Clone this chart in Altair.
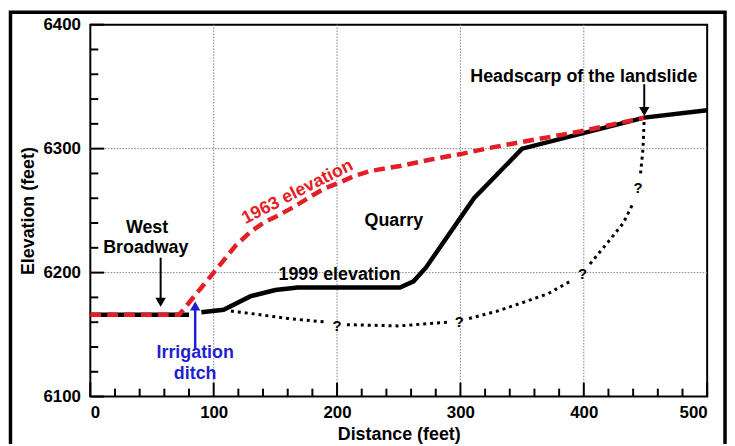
import altair as alt
import pandas as pd

# ---- data ----
# 1999 elevation (solid black), two pieces (gap at the irrigation-ditch arrow)
x_1999_a = [0, 80]
y_1999_a = [6166, 6166]
x_1999_b = [90, 108, 130, 150, 168, 251, 262, 272, 311, 350, 449, 500]
y_1999_b = [6168, 6170, 6181, 6186, 6188, 6188, 6193, 6204, 6260, 6300, 6325, 6331]

# 1963 elevation (red dashed)
x_1963 = [0, 72, 100, 118, 130, 140, 152, 165, 178, 190, 203, 214, 227, 251, 275, 302, 326, 342, 398, 449]
y_1963 = [6166, 6166, 6200, 6222, 6233, 6240, 6246, 6253, 6261, 6268, 6273, 6278, 6282, 6286, 6291, 6296, 6301, 6304, 6314, 6325]

# inferred failure surface (black dotted), split where the "?" marks sit
fail_seg = [1, 1, 1, 1, 2, 2, 2, 3, 3, 3, 3, 3, 4, 4, 4, 4, 5, 5, 5]
fail_x = [114, 130, 160, 192, 208, 250, 290, 307, 330, 351, 371, 389, 405, 420, 432, 440, 446, 448, 449]
fail_y = [6169, 6167, 6163, 6160, 6158, 6157, 6160, 6163, 6169, 6176, 6183, 6193, 6207, 6225, 6240, 6256, 6280, 6300, 6325]

q_x = [200, 299, 399, 444]
q_y = [6157, 6160, 6199, 6268]

# annotations
black_text = ["West", "Broadway", "Quarry", "1999 elevation", "Headscarp of the landslide"]
black_text_x = [46, 45, 246, 202, 400]
black_text_y = [6236, 6220, 6242, 6198, 6358]
blue_text = ["Irrigation", "ditch"]
blue_text_x = [85, 85]
blue_text_y = [6135, 6118]
red_text = ["1963 elevation"]
red_text_x = [168]
red_text_y = [6265]

# arrows: x, shaft start, head centre
arrow_black_x = [57, 449]
arrow_black_y1 = [6212, 6352]
arrow_black_y2 = [6176, 6330]
arrow_blue_x = [85]
arrow_blue_y1 = [6138]
arrow_blue_y2 = [6173]

x_major = [0, 100, 200, 300, 400, 500]
x_minor = [v for v in range(20, 500, 20) if v % 100 != 0]
y_major = [6100, 6200, 6300, 6400]
y_minor = [v for v in range(6120, 6400, 20) if v % 100 != 0]
x_grid = [100, 200, 300, 400]
y_grid = [6200, 6300]

# ---- scales ----
W, H = 622, 375
FONT = "Liberation Sans"
xs = alt.Scale(domain=[0, 500], nice=False, zero=False)
ys = alt.Scale(domain=[6100, 6400], nice=False, zero=False)
RED = "#e41e26"
BLUE = "#1f1fd0"

df_a = pd.DataFrame({"x": x_1999_a, "y": y_1999_a})
df_b = pd.DataFrame({"x": x_1999_b, "y": y_1999_b})
df_63 = pd.DataFrame({"x": x_1963, "y": y_1963})
df_f = pd.DataFrame({"seg": fail_seg, "x": fail_x, "y": fail_y})
df_q = pd.DataFrame({"x": q_x, "y": q_y, "t": ["?"] * len(q_x)})

xax = alt.Axis(values=x_major, title="Distance (feet)", format="d")
yax = alt.Axis(values=y_major, title="Elevation (feet)", format="d")
X = alt.X("x:Q", scale=xs, axis=xax)
Y = alt.Y("y:Q", scale=ys, axis=yax)
Y2f = alt.Y("y2:Q", scale=ys, axis=yax)

one = pd.DataFrame({"k": [0]})
frame = alt.Chart(one).mark_rect(fill=None, stroke="black", strokeWidth=3.5).encode(
    x=alt.value(-80.5), x2=alt.value(640), y=alt.value(-12.5), y2=alt.value(470))

gx = alt.Chart(pd.DataFrame({"x": x_grid})).mark_rule(
    color="#808080", strokeWidth=1, strokeDash=[1.5, 1.5]).encode(x=X)
gy = alt.Chart(pd.DataFrame({"y": y_grid})).mark_rule(
    color="#808080", strokeWidth=1, strokeDash=[1.5, 1.5]).encode(y=Y)

tx_maj = alt.Chart(pd.DataFrame({"x": x_major})).mark_rule(color="black", strokeWidth=2).encode(
    x=X, y=alt.value(H), y2=alt.value(H - 14))
tx_min = alt.Chart(pd.DataFrame({"x": x_minor})).mark_rule(color="black", strokeWidth=2).encode(
    x=X, y=alt.value(H), y2=alt.value(H - 8))
ty_maj = alt.Chart(pd.DataFrame({"y": y_major})).mark_rule(color="black", strokeWidth=2).encode(
    y=Y, x=alt.value(0), x2=alt.value(14))
ty_min = alt.Chart(pd.DataFrame({"y": y_minor})).mark_rule(color="black", strokeWidth=2).encode(
    y=Y, x=alt.value(0), x2=alt.value(8))

l99a = alt.Chart(df_a).mark_line(color="black", strokeWidth=4.5).encode(x=X, y=Y)
l99b = alt.Chart(df_b).mark_line(color="black", strokeWidth=4.5).encode(x=X, y=Y)
l63 = alt.Chart(df_63).mark_line(color=RED, strokeWidth=4.5, strokeDash=[11, 6]).encode(x=X, y=Y)
lf = alt.Chart(df_f).mark_line(color="black", strokeWidth=3, strokeDash=[3, 4]).encode(
    x=X, y=Y, detail="seg:N")
qm = alt.Chart(df_q).mark_text(font=FONT, fontSize=15, fontWeight="bold", color="black").encode(
    x=X, y=Y, text="t:N")

df_ab = pd.DataFrame({"x": arrow_black_x, "y": arrow_black_y1, "y2": arrow_black_y2})
ab_shaft = alt.Chart(df_ab).mark_rule(color="black", strokeWidth=2).encode(
    x=X, y=Y, y2="y2:Q")
ab_head = alt.Chart(df_ab).mark_point(shape="triangle-down", filled=True, size=110,
                                       color="black", opacity=1).encode(x=X, y=Y2f)
df_au = pd.DataFrame({"x": arrow_blue_x, "y": arrow_blue_y1, "y2": arrow_blue_y2})
au_shaft = alt.Chart(df_au).mark_rule(color=BLUE, strokeWidth=2.5).encode(
    x=X, y=Y, y2="y2:Q")
au_head = alt.Chart(df_au).mark_point(shape="triangle-up", filled=True, size=110,
                                       color=BLUE, opacity=1).encode(x=X, y=Y2f)

t_black = alt.Chart(pd.DataFrame({"x": black_text_x, "y": black_text_y, "t": black_text})).mark_text(
    font=FONT, fontSize=18, fontWeight="bold", color="black").encode(x=X, y=Y, text="t:N")
t_blue = alt.Chart(pd.DataFrame({"x": blue_text_x, "y": blue_text_y, "t": blue_text})).mark_text(
    font=FONT, fontSize=18, fontWeight="bold", color=BLUE).encode(x=X, y=Y, text="t:N")
t_red = alt.Chart(pd.DataFrame({"x": red_text_x, "y": red_text_y, "t": red_text})).mark_text(
    font=FONT, fontSize=18, fontWeight="bold", color=RED, angle=333).encode(x=X, y=Y, text="t:N")

chart = alt.layer(
    frame, gx, gy, tx_maj, tx_min, ty_maj, ty_min,
    l99a, l99b, l63, lf, qm,
    ab_shaft, ab_head, au_shaft, au_head,
    t_black, t_blue, t_red,
).properties(
    width=W, height=H,
    autosize=alt.AutoSizeParams(type="none"),
    padding={"left": 83, "top": 15, "right": 20, "bottom": 46},
    background="white",
).configure_view(
    stroke="black", strokeWidth=2,
).configure_axis(
    labelFont=FONT, labelFontSize=17, labelFontWeight="bold", labelColor="black",
    titleFont=FONT, titleFontSize=18, titleFontWeight="bold", titleColor="black",
    ticks=False, domain=False, grid=False,
).configure_axisX(
    labelPadding=8, titlePadding=5,
).configure_axisY(
    labelPadding=10, titlePadding=5,
)

chart.save("out.html", embed_options={"renderer": "svg", "actions": False})
